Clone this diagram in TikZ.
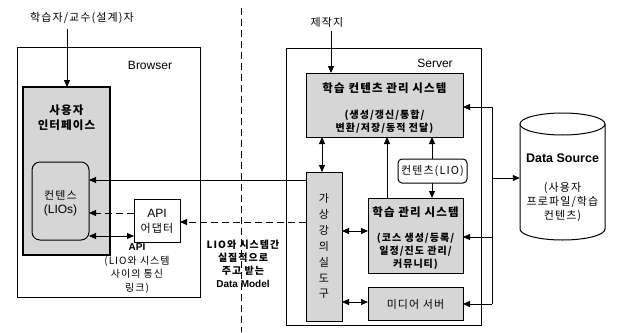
\documentclass[tikz,border=0pt]{standalone}
\usepackage{fontspec}
\setmainfont{Liberation Sans}
\newfontfamily\kr{Noto Sans CJK KR}[LetterSpace=10]
\usetikzlibrary{arrows.meta}
\begin{document}
\begin{tikzpicture}[x=1pt,y=-1pt,
  box/.style={draw, line width=1pt, inner sep=0pt, outer sep=0pt},
  graybox/.style={box, fill=black!16},
  lbl/.style={inner sep=0pt, font=\kr\fontsize{11}{13}\selectfont},
  lblb/.style={inner sep=0pt, font=\kr\bfseries\fontsize{11.5}{13}\selectfont},
  sml/.style={inner sep=0pt, font=\kr\fontsize{10}{12}\selectfont},
  smlb/.style={inner sep=0pt, font=\kr\bfseries\fontsize{10}{12}\selectfont},
  lat/.style={inner sep=0pt, font=\fontsize{12}{14}\selectfont},
  latb/.style={inner sep=0pt, font=\bfseries\fontsize{10}{12}\selectfont},
  mt/.tip={Triangle[length=7pt,width=6pt]},
  arr/.style={-mt, line width=0.9pt},
  darr/.style={mt-mt, line width=0.9pt},
  dsh/.style={dash pattern=on 7pt off 4pt},
]
\useasboundingbox (0,0) rectangle (617,332);

% dashed divider
\coordinate (d1) at (241,8);
\coordinate (d2) at (241,332);
\draw[line width=0.9pt, dsh] (d1) -- (d2);

% Browser side
\node[box, minimum width=183, minimum height=250] (browser) at (108.5,172) {};
\node[graybox, line width=1.4pt, minimum width=87, minimum height=168] (ui) at (66.5,171) {};
\node[box, rounded corners=8pt, minimum width=57, minimum height=78] (cont) at (60.5,201) {};
\node[box, fill=white, minimum width=46, minimum height=43] (api) at (157,220.5) {};

% Server side
\node[box, minimum width=195, minimum height=277] (server) at (383.5,186.5) {};
\node[graybox, minimum width=157, minimum height=64] (lcms) at (384.5,105) {};
\node[graybox, minimum width=36, minimum height=149] (vc) at (324,246.5) {};
\node[box, fill=white, rounded corners=4pt, minimum width=69, minimum height=24] (lio) at (432.5,171) {};
\node[graybox, minimum width=95, minimum height=75] (lms) at (415.5,235.5) {};
\node[graybox, minimum width=95, minimum height=33] (media) at (415.5,303.5) {};

% Data source cylinder
\draw[line width=1pt, fill=white] (520,124) -- (520,229) arc[start angle=180, end angle=360, x radius=42.5pt, y radius=11pt] -- (605,124);
\draw[line width=1pt, fill=white] (562.5,124) ellipse[x radius=42.5pt, y radius=11pt];
\node[inner sep=0pt, minimum width=85, minimum height=127] (ds) at (562.5,176.5) {};

% Texts
\node[lbl] (user) at (82,18) {학습자/교수(설계)자};
\node[lat] (browserlbl) at (150,65) {Browser};
\node[lblb] (ui1) at (66.5,110) {사용자};
\node[lblb] (ui2) at (66.5,125) {인터페이스};
\node[lbl] (c1) at (60.5,195) {컨텐스};
\node[lat] (c2) at (60.5,210) {(LIOs)};
\node[lat] (api1) at (157,213) {API};
\node[lbl] (api2) at (157,228) {어댑터};
\node[latb] (an1) at (137,247) {API};
\node[sml] (an2) at (137,261) {(LIO와 시스템};
\node[sml] (an3) at (137,274) {사이의 통신};
\node[sml] (an4) at (137,288) {링크)};
\node[smlb] (dm1) at (243,245) {LIO와 시스템간};
\node[smlb] (dm2) at (243,258) {실질적으로};
\node[smlb] (dm3) at (243,271) {주고 받는};
\node[latb] (dm4) at (243,284) {Data Model};

\node[lbl] (maker) at (327,22) {제작지};
\node[lat] (serverlbl) at (435,63) {Server};
\node[lblb] (lc1) at (384.5,88) {학습 컨텐츠 관리 시스템};
\node[smlb] (lc2) at (384.5,115) {(생성/갱신/통합/};
\node[smlb] (lc3) at (384.5,128) {변환/저장/동적 전달)};
\foreach \ch [count=\i from 0] in {가,상,강,의,실,도,구}
  \node[lbl] (vc\i) at (324,198+16*\i) {\ch};
\node[lbl] (liot) at (432.5,171) {컨텐츠(LIO)};
\node[lblb] (lm1) at (415.5,212) {학습 관리 시스템};
\node[smlb] (lm2) at (415.5,238) {(코스 생성/등록/};
\node[smlb] (lm3) at (415.5,251) {일정/진도 관리/};
\node[smlb] (lm4) at (415.5,264) {커뮤니티)};
\node[lbl] (md) at (415.5,304) {미디어 서버};
\node[inner sep=0pt, font=\bfseries\fontsize{12.5}{14}\selectfont] (ds1) at (562.5,158) {Data Source};
\node[lbl] (ds2) at (562.5,188) {(사용자};
\node[lbl] (ds3) at (562.5,202) {프로파일/학습};
\node[lbl] (ds4) at (562.5,216) {컨텐츠)};

% Connectors, browser side
\coordinate (ux) at (67,0);
\draw[arr, shorten <=5pt] (user.south -| ux) -- (ui.north -| ux);
\coordinate (a1) at (0,180);
\draw[arr] (vc.west |- a1) -- (cont.east |- a1);
\coordinate (a2) at (0,222);
\draw[arr, dsh] (vc.west |- a2) -- (api.east |- a2);
\coordinate (a3) at (0,213);
\draw[arr, dsh] (api.west |- a3) -- (cont.east |- a3);
\coordinate (a4) at (0,236);
\draw[darr] (cont.east |- a4) -- (api.west |- a4);

% Connectors, server side
\coordinate (mx) at (331,0);
\draw[arr, shorten <=4pt] (maker.south -| mx) -- (lcms.north -| mx);
\coordinate (v1) at (322,0);
\draw[darr] (lcms.south -| v1) -- (vc.north -| v1);
\coordinate (v2) at (387,0);
\draw[arr] (lms.north -| v2) -- (lcms.south -| v2);
\coordinate (v3) at (432,0);
\draw[arr] (lio.north -| v3) -- (lcms.south -| v3);
\draw[arr] (lio.south -| v3) -- (lms.north -| v3);
\coordinate (h1) at (0,231);
\draw[darr] (vc.east |- h1) -- (lms.west |- h1);
\coordinate (h2) at (0,302);
\draw[darr] (vc.east |- h2) -- (media.west |- h2);

% Right bus
\coordinate (r1) at (492,107);
\coordinate (r2) at (492,178);
\coordinate (r3) at (492,237);
\coordinate (r4) at (492,304);
\draw[line width=0.9pt] (r1) -- (r4);
\draw[arr] (r1) -- (r1 -| lcms.east);
\draw[arr] (r2) -- (r2 -| ds.west);
\draw[arr] (r3) -- (r3 -| lms.east);
\draw[arr] (r4) -- (r4 -| media.east);
\end{tikzpicture}
\end{document}
